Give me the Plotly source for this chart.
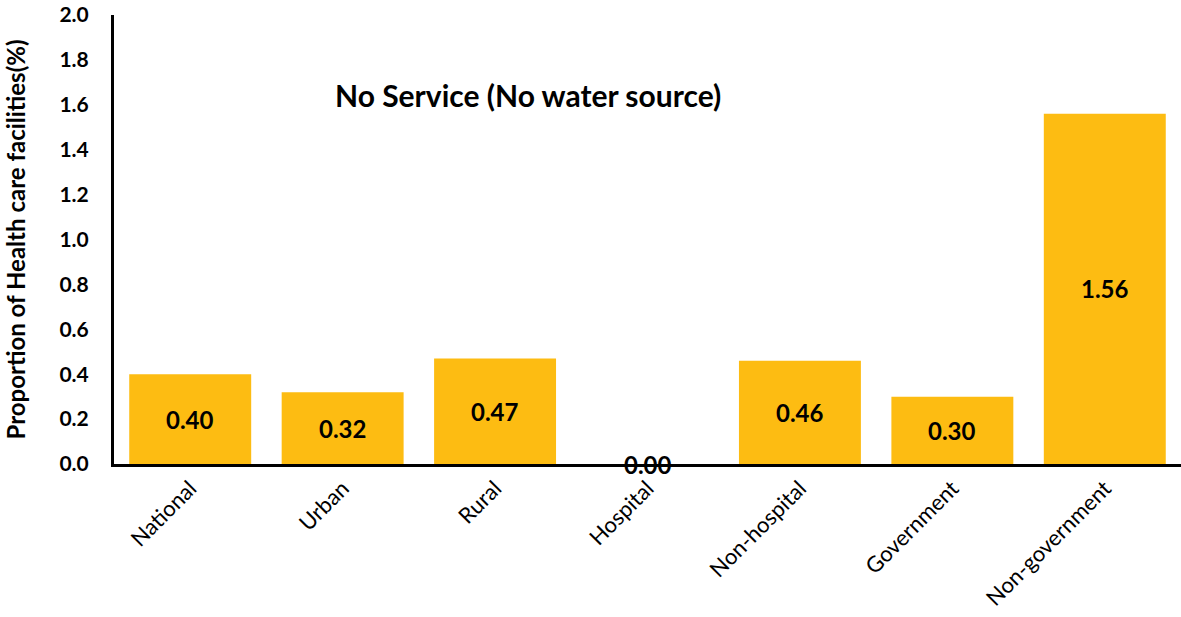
import plotly.graph_objects as go

categories = ["National", "Urban", "Rural", "Hospital", "Non-hospital", "Government", "Non-government"]
values = [0.40, 0.32, 0.47, 0.00, 0.46, 0.30, 1.56]
labels = ["0.40", "0.32", "0.47", "0.00", "0.46", "0.30", "1.56"]
y_ticks = [0.0, 0.2, 0.4, 0.6, 0.8, 1.0, 1.2, 1.4, 1.6, 1.8, 2.0]

FONT = "Lato"

fig = go.Figure()
fig.add_trace(go.Bar(
    x=categories, y=values, marker=dict(color="#FDBC12", line=dict(width=0)),
    width=0.8, hoverinfo="skip",
))

for c, v, t in zip(categories, values, labels):
    fig.add_annotation(x=c, y=v / 2, text=t, showarrow=False,
                       font=dict(family=FONT, size=24, color="black", weight="bold"),
                       xref="x", yref="y")

fig.add_annotation(x=0.388, y=0.867, xref="paper", yref="paper",
                   text="No Service (No water source)", showarrow=False,
                   font=dict(family=FONT, size=30, color="black", weight="bold"))

fig.update_layout(
    width=1181, height=617,
    margin=dict(l=114, r=0, t=15, b=153),
    plot_bgcolor="white", paper_bgcolor="white",
    showlegend=False, bargap=0.2,
    xaxis=dict(showline=True, linecolor="black", linewidth=3, tickangle=-45,
               tickfont=dict(family=FONT, size=22, color="black"), ticks="",
               showgrid=False, zeroline=False),
    yaxis=dict(range=[0, 2.0], tickvals=y_ticks, tickformat=".1f",
               showline=True, linecolor="black", linewidth=3, ticks="",
               showgrid=False, zeroline=False, ticklabelstandoff=18,
               tickfont=dict(family=FONT, size=21, color="black", weight="bold"),
               title=dict(text="Proportion of Health care facilities(%)", standoff=28,
                          font=dict(family=FONT, size=24, color="black", weight="bold"))),
)

fig.write_html("out.html")
